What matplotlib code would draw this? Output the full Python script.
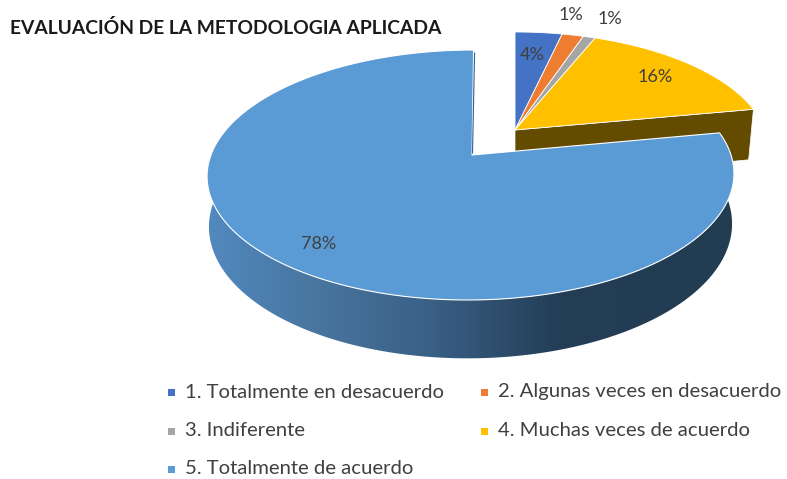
import numpy as np
import matplotlib
matplotlib.use("Agg")
import matplotlib.pyplot as plt
from matplotlib.colors import LinearSegmentedColormap
from matplotlib.patches import Polygon, Rectangle

title = "EVALUACIÓN DE LA METODOLOGIA APLICADA"
categories = [
    "1. Totalmente en desacuerdo",
    "2. Algunas veces en desacuerdo",
    "3. Indiferente",
    "4. Muchas veces de acuerdo",
    "5. Totalmente de acuerdo",
]
shares = [3.5, 1.6, 0.9, 16.0, 78.0]
pct_labels = ["4%", "1%", "1%", "16%", "78%"]
colors = ["#4472C4", "#ED7D31", "#A5A5A5", "#FFC000", "#5B9BD5"]

plt.rcParams["font.family"] = ["Lato", "DejaVu Sans"]

fig = plt.figure(figsize=(7.87, 4.79), dpi=100)
ax = fig.add_axes([0, 0, 1, 1])
ax.set_xlim(0, 787)
ax.set_ylim(479, 0)
ax.axis("off")

# perspective of the tilted disc: the back of the pie is squeezed
PERSP = 0.16


def rim(theta, cx, cy, a, b, skew=0.0, drop=0.0, shrink=1.0):
    u, v = np.sin(theta), np.cos(theta)
    w = 1 + PERSP * v
    x = cx + shrink * (a * u + skew * v) / w
    y = cy - b * v / w + drop / w
    return x, y


def arc(t0, t1, **kw):
    theta = np.linspace(t0, t1, 200)
    x, y = rim(theta, **kw)
    return np.column_stack([x, y])


edges = np.radians(np.cumsum([0] + shares) * 3.6)

# the four small slices are pulled out together
small = dict(cx=515, cy=130, a=250, b=113.7)
big = dict(cx=471, cy=155, a=260, b=121.8, skew=3)

# side wall of the yellow slice, cut face towards the viewer
ex, ey = rim(edges[4], **small)
ex2, ey2 = rim(edges[4], drop=52, shrink=0.98, **small)
wall = [(small["cx"], small["cy"]), (ex, ey), (ex2, ey2), (small["cx"], small["cy"] + 52)]
ax.add_patch(Polygon(wall, closed=True, fc="#634B00", ec="white", lw=0.5, zorder=1))

for i in range(4):
    pts = arc(edges[i], edges[i + 1], **small)
    pts = np.vstack([[small["cx"], small["cy"]], pts])
    ax.add_patch(Polygon(pts, closed=True, fc=colors[i], ec="white", lw=0.6, zorder=2))

# wall of the big slice with its horizontal shading
top_arc = arc(edges[4], edges[5], **big)
low_arc = arc(edges[4], edges[5], drop=49, shrink=0.993, **big)
wall_pts = np.vstack([top_arc, low_arc[::-1]])
wall_patch = Polygon(wall_pts, closed=True, fc="none", ec="none", transform=ax.transData, zorder=3)
ax.add_patch(wall_patch)
shade = LinearSegmentedColormap.from_list(
    "wall",
    [(0.0, "#5289BF"), (0.2, "#48769F"), (0.42, "#3A6087"), (0.67, "#233E55"), (1.0, "#223C52")],
)
grad = ax.imshow(
    np.linspace(0, 1, 256).reshape(1, -1),
    extent=(207, 735, 365, 120),
    cmap=shade,
    aspect="auto",
    zorder=3,
)
grad.set_clip_path(wall_patch)
ax.set_xlim(0, 787)
ax.set_ylim(479, 0)

# top of the big slice
top_pts = np.vstack([[big["cx"] + 1, big["cy"]], top_arc])
ax.add_patch(Polygon(top_pts, closed=True, fc=colors[4], ec="white", lw=0.8, zorder=4))
# thin dark sliver along the inner cut
sx, sy = rim(edges[5], **big)
ax.plot([big["cx"] + 1.5, sx + 1], [big["cy"] - 2, sy + 3], color="#2F5F8F", lw=0.8, zorder=5)

# percentage labels
label_xy = [(532, 55), (571, 15), (610, 19), (655, 77), (319, 244)]
for lab, (lx, ly) in zip(pct_labels, label_xy):
    ax.text(lx, ly, lab, color="#404040", fontsize=13, ha="center", va="center", zorder=6)

ax.text(10, 28, title, color="#1a1a1a", fontsize=13.9, fontweight="bold", ha="left", va="center")

# legend, two columns
legend_xy = [(171, 392), (484, 392), (171, 431), (484, 431), (171, 469)]
for cat, col, (lx, ly) in zip(categories, colors, legend_xy):
    ax.add_patch(Rectangle((lx - 3.5, ly - 3.5), 7, 7, fc=col, ec="none"))
    ax.text(lx + 14, ly, cat, color="#404040", fontsize=14.6, ha="left", va="center")

fig.savefig("out.png", dpi=100)
